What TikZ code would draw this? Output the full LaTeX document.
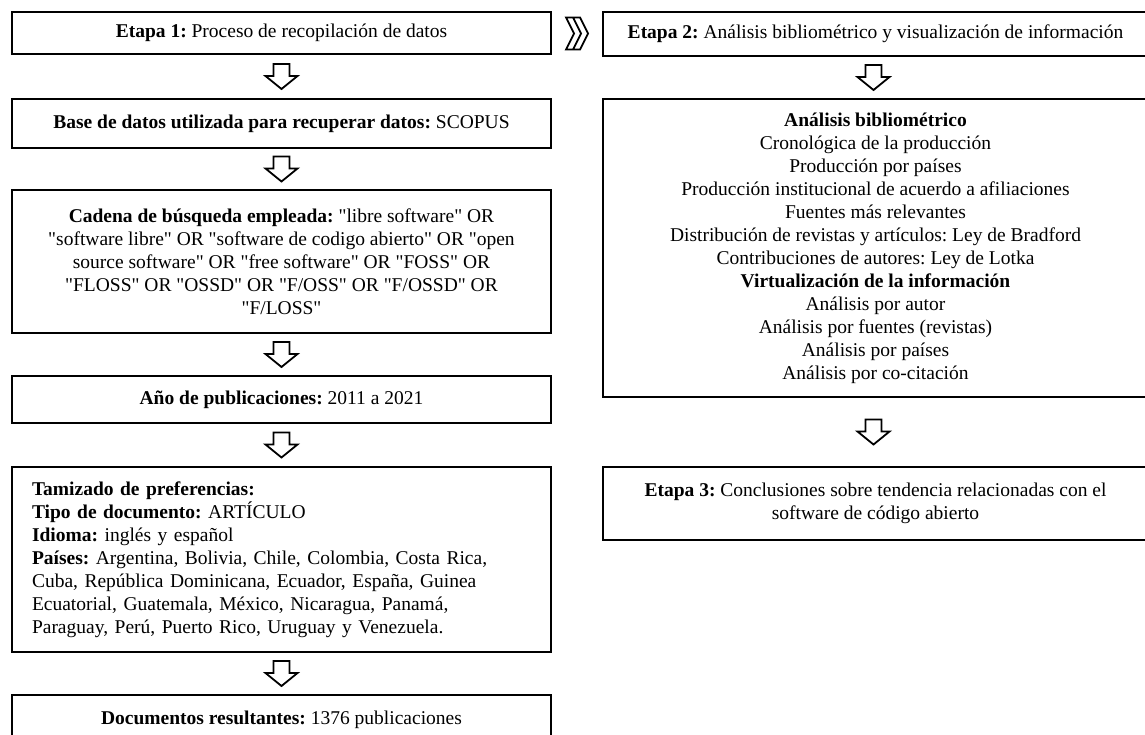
\documentclass[tikz,border=0pt]{standalone}
\usepackage{fontspec}
\setmainfont{Liberation Serif}
\usetikzlibrary{calc}
\newcommand\myfs{\fontsize{19.5}{23}\selectfont}
\newcommand\qd{\textquotedbl}
\frenchspacing
\begin{document}
\frenchspacing
\begin{tikzpicture}[x=1pt,y=-1pt,
  box/.style={draw, line width=2.8pt, inner sep=0pt, align=center, font=\myfs},
  lbox/.style={box, minimum width=539pt},
  rbox/.style={box, minimum width=545pt},
  downarr/.pic={\draw[line width=1.8pt, line join=miter]
     (-8,-12.5) -- (-8,-0.5) -- (-16,-0.5) -- (0,12.5) -- (16,-0.5) -- (8,-0.5) -- (8,-12.5) -- cycle;},
  dchev/.pic={\draw[line width=1.8pt, line join=miter]
     (-11,-16) -- (-4,-16) -- (4,0) -- (-4,16) -- (-11,16) -- (-3,0) -- cycle
     (-4,-16) -- (3,-16) -- (11,0) -- (3,16) -- (-4,16);}
]
\useasboundingbox (0,0) rectangle (1145,734);
\clip (0,0) rectangle (1145,734);
% left column
\node[lbox, minimum height=42pt] (b1) at (281.5,33) {\textbf{Etapa 1:} Proceso de recopilación de datos};
\node[lbox, minimum height=49pt] (b2) at (281.5,123.5) {\textbf{Base de datos utilizada para recuperar datos:} SCOPUS};
\node[lbox, minimum height=143pt] (b3) at (281.5,261.5) {\textbf{Cadena de búsqueda empleada:} \qd libre software\qd{} OR\\ \qd software libre\qd{} OR \qd software de codigo abierto\qd{} OR \qd open\\ source software\qd{} OR \qd free software\qd{} OR \qd FOSS\qd{} OR\\ \qd FLOSS\qd{} OR \qd OSSD\qd{} OR \qd F/OSS\qd{} OR \qd F/OSSD\qd{} OR\\ \qd F/LOSS\qd};
\node[lbox, minimum height=47pt] (b4) at (281.5,399.5) {\textbf{Año de publicaciones:} 2011 a 2021};
\node[lbox, minimum height=185pt, text width=499pt, align=left] (b5) at (281.5,559.5) {\textbf{Tamizado de preferencias:}\\ \textbf{Tipo de documento:} ARTÍCULO\\ \textbf{Idioma:} inglés y español\\ \textbf{Países:} Argentina, Bolivia, Chile, Colombia, Costa Rica,\\ Cuba, República Dominicana, Ecuador, España, Guinea\\ Ecuatorial, Guatemala, México, Nicaragua, Panamá,\\ Paraguay, Perú, Puerto Rico, Uruguay y Venezuela.};
\node[lbox, minimum height=50pt] (b6) at (281.5,720) {\textbf{Documentos resultantes:} 1376 publicaciones};
% right column
\node[rbox, minimum height=44pt] (e2) at (875.5,34) {\textbf{Etapa 2:} Análisis bibliométrico y visualización de información};
\node[rbox, minimum height=298pt] (r2) at (875.5,248) {\textbf{Análisis bibliométrico}\\ Cronológica de la producción\\ Producción por países\\ Producción institucional de acuerdo a afiliaciones\\ Fuentes más relevantes\\ Distribución de revistas y artículos: Ley de Bradford\\ Contribuciones de autores: Ley de Lotka\\ \textbf{Virtualización de la información}\\ Análisis por autor\\ Análisis por fuentes (revistas)\\ Análisis por países\\ Análisis por co-citación};
\node[rbox, minimum height=73pt] (e3) at (875.5,503.5) {\textbf{Etapa 3:} Conclusiones sobre tendencia relacionadas con el\\ software de código abierto};
% arrows
\pic at ($(b1.south)!0.5!(b2.north)$) {downarr};
\pic at ($(b2.south)!0.5!(b3.north)$) {downarr};
\pic at ($(b3.south)!0.5!(b4.north)$) {downarr};
\pic at ($(b4.south)!0.5!(b5.north)$) {downarr};
\pic at ($(b5.south)!0.5!(b6.north)$) {downarr};
\pic at ($(e2.south)!0.5!(r2.north)+(-2,0)$) {downarr};
\pic at ($(r2.south)!0.5!(e3.north)+(-2,0)$) {downarr};
\pic at ($(b1.east)!0.5!(e2.west)$) {dchev};
\end{tikzpicture}
\end{document}
